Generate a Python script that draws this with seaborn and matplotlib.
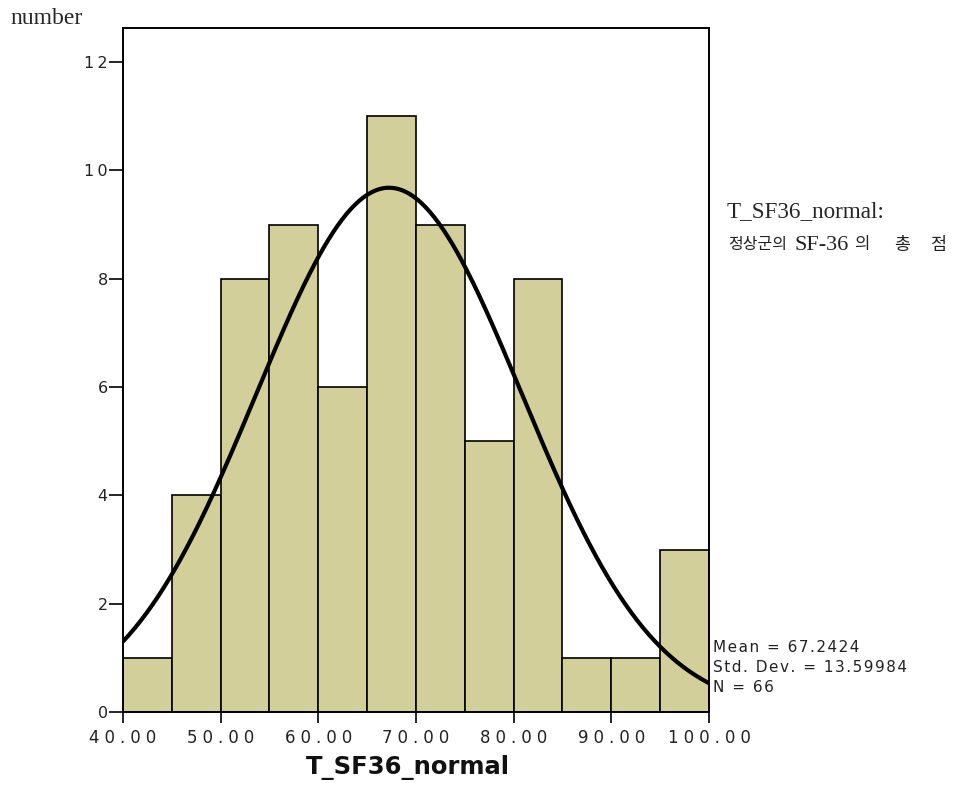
import numpy as np
import pandas as pd
import matplotlib
matplotlib.use("Agg")
import matplotlib.pyplot as plt
import seaborn as sns

# Histogram of SF-36 total scores (normal group)
bin_edges = [40, 45, 50, 55, 60, 65, 70, 75, 80, 85, 90, 95, 100]
counts = [1, 4, 8, 9, 6, 11, 9, 5, 8, 1, 1, 3]
mean_val = 67.2424
sd_val = 13.59984
n_val = 66
x_ticks = [40, 50, 60, 70, 80, 90, 100]
y_ticks = [0, 2, 4, 6, 8, 10, 12]

sns.set_theme(style="white")
plt.rcParams['font.family'] = ['DejaVu Sans', 'Noto Sans CJK KR']

THIN = "\u2009"
HAIR = "\u200a"
CJK = ["Noto Sans CJK KR", "DejaVu Sans"]
SERIF = ["Liberation Serif"]


def spaced(text, sep):
    return sep.join(text)


fig = plt.figure(figsize=(9.62, 7.85), dpi=100)
ax = fig.add_axes([123 / 962, 1 - 712 / 785, (709 - 123) / 962, (712 - 28) / 785])

centers = [(a + b) / 2 for a, b in zip(bin_edges[:-1], bin_edges[1:])]
df = pd.DataFrame({"score": centers, "count": counts})
sns.histplot(data=df, x="score", weights="count", bins=bin_edges, ax=ax,
             color="#D3CF9B", alpha=1.0, edgecolor="black", linewidth=1.2)

# Fitted normal curve scaled to counts per bin
width = bin_edges[1] - bin_edges[0]
xs = np.linspace(bin_edges[0], bin_edges[-1], 400)
ys = n_val * width / (sd_val * np.sqrt(2 * np.pi)) * np.exp(-0.5 * ((xs - mean_val) / sd_val) ** 2)
sns.lineplot(x=xs, y=ys, ax=ax, color="black", linewidth=3.0)

ax.set_xlim(40, 100)
ax.set_ylim(0, 12.63)
ax.set_xticks(x_ticks)
ax.set_xticklabels([spaced(f"{v:.2f}", THIN + HAIR) for v in x_ticks], fontsize=12)
ax.set_yticks(y_ticks)
ax.set_yticklabels([spaced(str(v), THIN) for v in y_ticks], fontsize=11.5)
ax.tick_params(axis="both", which="major", direction="out", width=1.2,
               color="black", labelcolor="#222222", bottom=True, left=True)
ax.tick_params(axis="x", length=8, pad=4)
ax.tick_params(axis="y", length=10, pad=1)
for s in ax.spines.values():
    s.set_visible(True)
    s.set_color("black")
    s.set_linewidth(1.4)
ax.grid(False)
ax.set_ylabel("")
ax.set_xlabel("")
fig.text(408 / 962, 1 - 767 / 785, "T_SF36_normal", fontsize=17.5, fontweight="bold",
         ha="center", va="center", color="#111111")

fig.text(10 / 962, 1 - 18 / 785, "number", fontsize=17, family=SERIF,
         va="center", ha="left")

# Variable label, two lines
fig.text(727 / 962, 1 - 212 / 785, "T_SF36_normal:", fontsize=16.7,
         family=SERIF, va="center", ha="left")
label_pieces = [
    ("정상군의", 728, CJK, 11.5),
    ("SF-36", 795, SERIF, 16),
    ("의", 854, CJK, 12),
    ("총", 894, CJK, 12.5),
    ("점", 930, CJK, 12.5),
]
for piece, px, fam, size in label_pieces:
    fig.text(px / 962, 1 - 245 / 785, piece, fontsize=size, family=fam,
             va="center", ha="left", color="#222222")

stats = [f"Mean = {mean_val:.4f}", f"Std. Dev. = {sd_val:.5f}", f"N = {n_val}"]
for i, t in enumerate(stats):
    fig.text(713 / 962, 1 - (648 + i * 19.5) / 785, spaced(t, HAIR), fontsize=11,
             va="center", ha="left", color="#222222")

fig.savefig("out.png", dpi=100)
